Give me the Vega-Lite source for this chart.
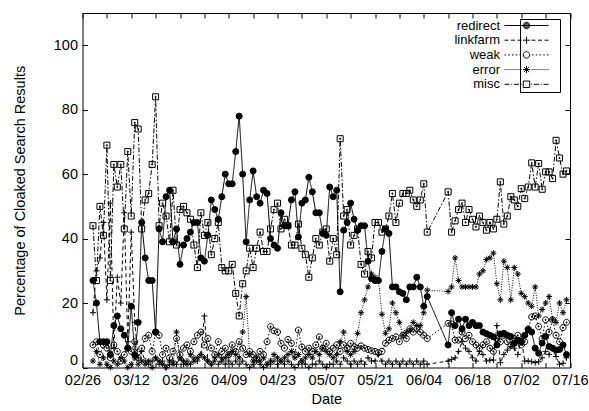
{
"$schema": "https://vega.github.io/schema/vega-lite/v6.json",
"width": 487.5, "height": 354.5,
"autosize": {"type": "none"},
"padding": {"left": 82.5, "top": 13, "right": 19, "bottom": 43.5},
"background": "white",
"data": {"values": [
{"d":"2011-03-01","redirect":27,"linkfarm":17,"weak":7,"error":2,"misc":44},
{"d":"2011-03-02","redirect":20,"linkfarm":30,"weak":8,"error":5,"misc":27},
{"d":"2011-03-03","redirect":8,"linkfarm":34,"weak":4,"error":1,"misc":50},
{"d":"2011-03-04","redirect":8,"linkfarm":45,"weak":7,"error":3,"misc":41},
{"d":"2011-03-05","redirect":8,"linkfarm":21,"weak":6,"error":1,"misc":69},
{"d":"2011-03-06","redirect":4,"linkfarm":51,"weak":3,"error":0,"misc":27},
{"d":"2011-03-07","redirect":13,"linkfarm":6,"weak":7,"error":2,"misc":63},
{"d":"2011-03-08","redirect":16,"linkfarm":28,"weak":5,"error":1,"misc":56},
{"d":"2011-03-09","redirect":12,"linkfarm":20,"weak":2,"error":3,"misc":63},
{"d":"2011-03-10","redirect":10,"linkfarm":48,"weak":4,"error":2,"misc":43},
{"d":"2011-03-11","redirect":6,"linkfarm":8,"weak":6,"error":0,"misc":67},
{"d":"2011-03-12","redirect":19,"linkfarm":42,"weak":5,"error":1,"misc":47},
{"d":"2011-03-13","redirect":4,"linkfarm":14,"weak":8,"error":3,"misc":76},
{"d":"2011-03-14","redirect":14,"linkfarm":3,"weak":3,"error":1,"misc":74},
{"d":"2011-03-15","redirect":45,"linkfarm":5,"weak":6,"error":2,"misc":43},
{"d":"2011-03-16","redirect":34,"linkfarm":2,"weak":9,"error":1,"misc":52},
{"d":"2011-03-17","redirect":27,"linkfarm":1,"weak":10,"error":2,"misc":54},
{"d":"2011-03-18","redirect":27,"linkfarm":2,"weak":5,"error":0,"misc":63},
{"d":"2011-03-19","redirect":11,"linkfarm":3,"weak":11,"error":3,"misc":84},
{"d":"2011-03-20","redirect":43,"linkfarm":1,"weak":10,"error":2,"misc":44},
{"d":"2011-03-21","redirect":39,"linkfarm":2,"weak":4,"error":1,"misc":51},
{"d":"2011-03-22","redirect":53,"linkfarm":0,"weak":6,"error":0,"misc":47},
{"d":"2011-03-23","redirect":55,"linkfarm":1,"weak":3,"error":2,"misc":39},
{"d":"2011-03-24","redirect":39,"linkfarm":2,"weak":5,"error":1,"misc":55},
{"d":"2011-03-25","redirect":43,"linkfarm":1,"weak":9,"error":11,"misc":38},
{"d":"2011-03-26","redirect":32,"linkfarm":3,"weak":4,"error":3,"misc":49},
{"d":"2011-03-27","redirect":38,"linkfarm":1,"weak":6,"error":2,"misc":50},
{"d":"2011-03-28","redirect":40,"linkfarm":2,"weak":7,"error":1,"misc":48},
{"d":"2011-03-29","redirect":42,"linkfarm":1,"weak":5,"error":4,"misc":46},
{"d":"2011-03-30","redirect":45,"linkfarm":3,"weak":8,"error":2,"misc":38},
{"d":"2011-03-31","redirect":45,"linkfarm":2,"weak":10,"error":3,"misc":31},
{"d":"2011-04-01","redirect":34,"linkfarm":4,"weak":11,"error":4,"misc":48},
{"d":"2011-04-02","redirect":33,"linkfarm":16,"weak":7,"error":3,"misc":41},
{"d":"2011-04-03","redirect":41,"linkfarm":2,"weak":9,"error":2,"misc":45},
{"d":"2011-04-04","redirect":52,"linkfarm":1,"weak":6,"error":1,"misc":35},
{"d":"2011-04-05","redirect":49,"linkfarm":2,"weak":4,"error":3,"misc":40},
{"d":"2011-04-06","redirect":46,"linkfarm":1,"weak":8,"error":4,"misc":45},
{"d":"2011-04-07","redirect":53,"linkfarm":3,"weak":5,"error":2,"misc":31},
{"d":"2011-04-08","redirect":60,"linkfarm":1,"weak":6,"error":3,"misc":30},
{"d":"2011-04-09","redirect":57,"linkfarm":2,"weak":4,"error":4,"misc":30},
{"d":"2011-04-10","redirect":57,"linkfarm":1,"weak":7,"error":5,"misc":32},
{"d":"2011-04-11","redirect":67,"linkfarm":2,"weak":5,"error":4,"misc":23},
{"d":"2011-04-12","redirect":78,"linkfarm":1,"weak":8,"error":3,"misc":16},
{"d":"2011-04-13","redirect":60,"linkfarm":2,"weak":6,"error":11,"misc":26},
{"d":"2011-04-14","redirect":39,"linkfarm":1,"weak":4,"error":22,"misc":30},
{"d":"2011-04-15","redirect":52,"linkfarm":0,"weak":5,"error":4,"misc":37},
{"d":"2011-04-16","redirect":61,"linkfarm":1,"weak":4,"error":2,"misc":31},
{"d":"2011-04-17","redirect":53,"linkfarm":2,"weak":3,"error":3,"misc":37},
{"d":"2011-04-18","redirect":51,"linkfarm":1,"weak":5,"error":2,"misc":42},
{"d":"2011-04-19","redirect":55,"linkfarm":0,"weak":4,"error":3,"misc":36},
{"d":"2011-04-20","redirect":54,"linkfarm":1,"weak":8,"error":1,"misc":36},
{"d":"2011-04-21","redirect":40,"linkfarm":1,"weak":12.7,"error":2,"misc":43},
{"d":"2011-04-22","redirect":38,"linkfarm":2,"weak":11.4,"error":4,"misc":49},
{"d":"2011-04-23","redirect":37,"linkfarm":1,"weak":11,"error":3,"misc":51},
{"d":"2011-04-24","redirect":48,"linkfarm":2,"weak":7.5,"error":2,"misc":43},
{"d":"2011-04-25","redirect":44,"linkfarm":1,"weak":6,"error":3,"misc":46},
{"d":"2011-04-26","redirect":44,"linkfarm":2,"weak":8.7,"error":4,"misc":44},
{"d":"2011-04-27","redirect":52,"linkfarm":1,"weak":7.5,"error":5,"misc":38},
{"d":"2011-04-28","redirect":54.5,"linkfarm":0,"weak":4,"error":3,"misc":38},
{"d":"2011-04-29","redirect":40.5,"linkfarm":1,"weak":11.6,"error":4,"misc":44.5},
{"d":"2011-04-30","redirect":51,"linkfarm":2,"weak":6.4,"error":2,"misc":37},
{"d":"2011-05-01","redirect":52,"linkfarm":1,"weak":5,"error":3,"misc":35},
{"d":"2011-05-02","redirect":59,"linkfarm":0,"weak":6,"error":4,"misc":28},
{"d":"2011-05-03","redirect":54.5,"linkfarm":1,"weak":5,"error":3,"misc":34},
{"d":"2011-05-04","redirect":48,"linkfarm":1,"weak":7,"error":5,"misc":40},
{"d":"2011-05-05","redirect":48,"linkfarm":2,"weak":9.5,"error":4,"misc":38},
{"d":"2011-05-06","redirect":41.6,"linkfarm":1,"weak":6,"error":6,"misc":42},
{"d":"2011-05-07","redirect":41,"linkfarm":0,"weak":7.5,"error":5,"misc":43},
{"d":"2011-05-08","redirect":56,"linkfarm":1,"weak":5,"error":4,"misc":33},
{"d":"2011-05-09","redirect":53,"linkfarm":1,"weak":6,"error":3,"misc":40},
{"d":"2011-05-10","redirect":55,"linkfarm":2,"weak":7,"error":4,"misc":35},
{"d":"2011-05-11","redirect":23.5,"linkfarm":1,"weak":5,"error":8,"misc":71},
{"d":"2011-05-12","redirect":42.6,"linkfarm":3,"weak":7,"error":11,"misc":47},
{"d":"2011-05-13","redirect":45,"linkfarm":2,"weak":6,"error":5,"misc":49},
{"d":"2011-05-14","redirect":51,"linkfarm":1,"weak":7.5,"error":4,"misc":38},
{"d":"2011-05-15","redirect":46,"linkfarm":2,"weak":6.5,"error":5,"misc":41},
{"d":"2011-05-16","redirect":42.6,"linkfarm":1,"weak":6,"error":10.6,"misc":43},
{"d":"2011-05-17","redirect":44,"linkfarm":2,"weak":6.7,"error":17,"misc":32},
{"d":"2011-05-18","redirect":44,"linkfarm":1,"weak":6,"error":21,"misc":29},
{"d":"2011-05-19","redirect":33,"linkfarm":3,"weak":5.6,"error":25,"misc":36},
{"d":"2011-05-20","redirect":27.6,"linkfarm":2,"weak":5.2,"error":29,"misc":34},
{"d":"2011-05-21","redirect":27,"linkfarm":2,"weak":5,"error":28,"misc":45},
{"d":"2011-05-22","redirect":27,"linkfarm":4,"weak":4.6,"error":27,"misc":45},
{"d":"2011-05-23","redirect":36,"linkfarm":2,"weak":5,"error":16.5,"misc":42},
{"d":"2011-05-24","redirect":43,"linkfarm":1,"weak":7.5,"error":10.6,"misc":43},
{"d":"2011-05-25","redirect":41.6,"linkfarm":2,"weak":8.5,"error":12,"misc":47},
{"d":"2011-05-26","redirect":25,"linkfarm":1,"weak":9,"error":20,"misc":54},
{"d":"2011-05-27","redirect":25,"linkfarm":2,"weak":9.5,"error":17,"misc":45},
{"d":"2011-05-28","redirect":23.5,"linkfarm":1,"weak":8,"error":14,"misc":51},
{"d":"2011-05-29","redirect":23,"linkfarm":2,"weak":10,"error":10,"misc":54},
{"d":"2011-05-30","redirect":21,"linkfarm":1,"weak":9,"error":11,"misc":54},
{"d":"2011-05-31","redirect":25,"linkfarm":2,"weak":12,"error":11.6,"misc":55},
{"d":"2011-06-01","redirect":25,"linkfarm":1,"weak":11,"error":14,"misc":52},
{"d":"2011-06-02","redirect":28,"linkfarm":2,"weak":12,"error":13,"misc":50},
{"d":"2011-06-03","redirect":25,"linkfarm":1,"weak":11,"error":13,"misc":52},
{"d":"2011-06-04","redirect":19,"linkfarm":2,"weak":10,"error":17,"misc":57},
{"d":"2011-06-05","redirect":22,"linkfarm":1,"weak":9,"error":24,"misc":42},
{"d":"2011-06-11","redirect":7,"linkfarm":2,"weak":13.7,"error":23.6,"misc":54.5},
{"d":"2011-06-12","redirect":17,"linkfarm":2.5,"weak":13.5,"error":25,"misc":42},
{"d":"2011-06-13","redirect":13,"linkfarm":3,"weak":8.5,"error":34,"misc":45.5},
{"d":"2011-06-14","redirect":15,"linkfarm":5,"weak":8.5,"error":27,"misc":49},
{"d":"2011-06-15","redirect":12,"linkfarm":8,"weak":11,"error":25,"misc":51},
{"d":"2011-06-16","redirect":15,"linkfarm":6,"weak":9,"error":25,"misc":45},
{"d":"2011-06-17","redirect":13,"linkfarm":5,"weak":10,"error":25,"misc":49},
{"d":"2011-06-18","redirect":14,"linkfarm":3,"weak":8,"error":25,"misc":46},
{"d":"2011-06-19","redirect":13,"linkfarm":2,"weak":7,"error":25,"misc":43.6},
{"d":"2011-06-20","redirect":13,"linkfarm":5,"weak":6,"error":29,"misc":47},
{"d":"2011-06-21","redirect":11,"linkfarm":4,"weak":7,"error":30,"misc":45},
{"d":"2011-06-22","redirect":10.5,"linkfarm":2,"weak":8,"error":33.5,"misc":42.6},
{"d":"2011-06-23","redirect":10,"linkfarm":2.3,"weak":6,"error":34,"misc":45},
{"d":"2011-06-24","redirect":9.5,"linkfarm":2.3,"weak":5,"error":35.5,"misc":43},
{"d":"2011-06-25","redirect":7,"linkfarm":13,"weak":9,"error":26,"misc":46},
{"d":"2011-06-26","redirect":10.4,"linkfarm":1.5,"weak":8,"error":21,"misc":57.6},
{"d":"2011-06-27","redirect":10.6,"linkfarm":4,"weak":10,"error":33,"misc":44.5},
{"d":"2011-06-28","redirect":10,"linkfarm":5.4,"weak":8,"error":31,"misc":47},
{"d":"2011-06-29","redirect":9.6,"linkfarm":6.5,"weak":7,"error":21,"misc":53},
{"d":"2011-06-30","redirect":7.5,"linkfarm":6,"weak":9,"error":31,"misc":52},
{"d":"2011-07-01","redirect":8.5,"linkfarm":4,"weak":10,"error":29,"misc":50},
{"d":"2011-07-02","redirect":8,"linkfarm":9,"weak":7,"error":23,"misc":55.5},
{"d":"2011-07-03","redirect":10,"linkfarm":2,"weak":8,"error":22,"misc":52.4},
{"d":"2011-07-04","redirect":11.7,"linkfarm":2,"weak":12,"error":20,"misc":56},
{"d":"2011-07-05","redirect":11,"linkfarm":1.8,"weak":15.7,"error":19,"misc":63.5},
{"d":"2011-07-06","redirect":6,"linkfarm":1.5,"weak":16,"error":25,"misc":56},
{"d":"2011-07-07","redirect":4.4,"linkfarm":1.8,"weak":12.7,"error":16,"misc":63.3},
{"d":"2011-07-08","redirect":7.6,"linkfarm":3,"weak":9,"error":18,"misc":55.3},
{"d":"2011-07-09","redirect":9.6,"linkfarm":5,"weak":14.8,"error":20,"misc":60.7},
{"d":"2011-07-10","redirect":6.5,"linkfarm":4,"weak":11,"error":22,"misc":60.7},
{"d":"2011-07-11","redirect":6,"linkfarm":6,"weak":14.8,"error":15,"misc":58.6},
{"d":"2011-07-12","redirect":5.4,"linkfarm":3.4,"weak":10,"error":14,"misc":70.5},
{"d":"2011-07-13","redirect":5.6,"linkfarm":1,"weak":8,"error":20,"misc":65},
{"d":"2011-07-14","redirect":7,"linkfarm":1.3,"weak":12.4,"error":17,"misc":60},
{"d":"2011-07-15","redirect":4,"linkfarm":3,"weak":14,"error":21,"misc":61}
]},
"transform": [{"fold": ["redirect","linkfarm","weak","error","misc"], "as": ["series","value"]}],
"layer": [
{
"mark": {"type": "line", "color": "black", "strokeWidth": 1},
"encoding": {
"x": {"field": "d", "type": "temporal", "scale": {"type": "utc", "domain": [1298678400000, 1310774400000]},
"axis": {"orient": "bottom", "title": "Date", "format": "%m/%d", "values": [1298678400000,1299283200000,1299888000000,1300492800000,1301097600000,1301702400000,1302307200000,1302912000000,1303516800000,1304121600000,1304726400000,1305331200000,1305936000000,1306540800000,1307145600000,1307750400000,1308355200000,1308960000000,1309564800000,1310169600000,1310774400000],
"labelExpr": "indexof(['02/26','03/12','03/26','04/09','04/23','05/07','05/21','06/04','06/18','07/02','07/16'], datum.label) >= 0 ? datum.label : ''", "labelPadding": 11, "titlePadding": 5, "labelFlush": false, "labelOverlap": false}},
"y": {"field": "value", "type": "quantitative", "scale": {"domain": [0, 110], "nice": false},
"axis": {"orient": "left", "title": "Percentage of Cloaked Search Results", "values": [0,20,40,60,80,100], "labelPadding": 10, "titlePadding": 26, "labelFlush": true, "labelFlushOffset": 0}},
"strokeDash": {"field": "series", "type": "nominal", "scale": {"domain": ["redirect","linkfarm","weak","error","misc"], "range": [[1,0],[4,3],[1.5,2],[1,1.5],[5,2,1.5,2]]}, "legend": null}
}
},
{
"mark": {"type": "point", "filled": true, "stroke": "black", "strokeWidth": 1, "size": 36, "opacity": 1},
"encoding": {
"x": {"field": "d", "type": "temporal", "axis": {"orient": "top", "labels": false, "title": null, "values": [1298678400000,1299283200000,1299888000000,1300492800000,1301097600000,1301702400000,1302307200000,1302912000000,1303516800000,1304121600000,1304726400000,1305331200000,1305936000000,1306540800000,1307145600000,1307750400000,1308355200000,1308960000000,1309564800000,1310169600000,1310774400000]}},
"y": {"field": "value", "type": "quantitative", "axis": {"orient": "right", "labels": false, "title": null, "values": [20,40,60,80,100]}},
"shape": {"field": "series", "type": "nominal", "scale": {"domain": ["redirect","linkfarm","weak","error","misc"], "range": ["circle", "M-1,0H1M0,-1V1", "M1,0A1,1,0,1,1,-1,0A1,1,0,1,1,1,0ZM0.2,0A0.2,0.2,0,1,1,-0.2,0A0.2,0.2,0,1,1,0.2,0Z", "M-1,0H1M0,-1V1M-0.7,-0.7L0.7,0.7M-0.7,0.7L0.7,-0.7", "M-1,-1H1V1H-1ZM0.2,0A0.2,0.2,0,1,1,-0.2,0A0.2,0.2,0,1,1,0.2,0Z"]}, "legend": null},
"fill": {"field": "series", "type": "nominal", "scale": {"domain": ["redirect","linkfarm","weak","error","misc"], "range": ["black","transparent","transparent","transparent","transparent"]}, "legend": null}
}
},
{
"mark": {"type": "point", "filled": false, "stroke": "black", "strokeWidth": 1, "size": 100, "opacity": 0},
"encoding": {
"x": {"field": "d", "type": "temporal", "axis": null},
"y": {"field": "value", "type": "quantitative", "axis": null},
"shape": {"field": "series", "type": "nominal", "scale": {"domain": ["redirect","linkfarm","weak","error","misc"], "range": [
"M6.2,0L6.2,0M-4.4,0H4.4M0.65,0A0.65,0.65,0,1,1,-0.65,0A0.65,0.65,0,1,1,0.65,0ZM0.45,0A0.45,0.45,0,1,1,-0.45,0A0.45,0.45,0,1,1,0.45,0ZM0.25,0A0.25,0.25,0,1,1,-0.25,0A0.25,0.25,0,1,1,0.25,0Z",
"M6.2,0L6.2,0M-4.4,0H-3.6M-3.1,0H-2.3M-1.8,0H-1M-0.7,0H0.7M0,-0.7V0.7M1,0H1.8M2.3,0H3.1M3.6,0H4.4",
"M6.2,0L6.2,0M-4.4,0H-4.1M-3.65,0H-3.35M-2.9,0H-2.6M-2.15,0H-1.85M-1.4,0H-1.1M0.65,0A0.65,0.65,0,1,1,-0.65,0A0.65,0.65,0,1,1,0.65,0M1.1,0H1.4M1.85,0H2.15M2.6,0H2.9M3.35,0H3.65M4.1,0H4.4",
"M6.2,0L6.2,0M-4.4,0H-4.2M-4,0H-3.8M-3.6,0H-3.4M-3.2,0H-3M-2.8,0H-2.6M-2.4,0H-2.2M-2,0H-1.8M-1.6,0H-1.4M-1.2,0H-1M-0.7,0H0.7M0,-0.7V0.7M-0.5,-0.5L0.5,0.5M-0.5,0.5L0.5,-0.5M1,0H1.2M1.4,0H1.6M1.8,0H2M2.2,0H2.4M2.6,0H2.8M3,0H3.2M3.4,0H3.6M3.8,0H4M4.2,0H4.4",
"M6.2,0L6.2,0M-4.4,0H-3.4M-3.05,0H-2.85M-2.5,0H-1.5M-1.15,0H-0.95M-0.65,-0.65H0.65V0.65H-0.65ZM0.95,0H1.15M1.5,0H2.5M2.85,0H3.05M3.4,0H4.4"
]}, "legend": {"title": null, "orient": "none", "legendX": 437.5, "legendY": 6, "strokeColor": "black", "fillColor": "white", "padding": 0, "labelAlign": "right", "labelOffset": -33, "labelExpr": "'       ' + datum.label", "symbolSize": 100, "symbolStrokeWidth": 1, "symbolOpacity": 1, "symbolStrokeColor": "black", "symbolFillColor": "transparent", "rowPadding": 0.7, "labelFontSize": 13, "labelFont": "Liberation Sans", "labelColor": "black"}}
}
}
],
"resolve": {"scale": {"shape": "independent", "fill": "independent"}, "axis": {"x": "independent", "y": "independent"}},
"config": {
"view": {"stroke": "black", "strokeWidth": 1},
"font": "Liberation Sans",
"axis": {"domain": false, "grid": false, "tickColor": "black", "tickSize": -5, "tickWidth": 1, "labelFont": "Liberation Sans", "labelFontSize": 14.5, "labelColor": "black", "titleFont": "Liberation Sans", "titleFontSize": 14.5, "titleFontWeight": "normal", "titleColor": "black"}
}
}
